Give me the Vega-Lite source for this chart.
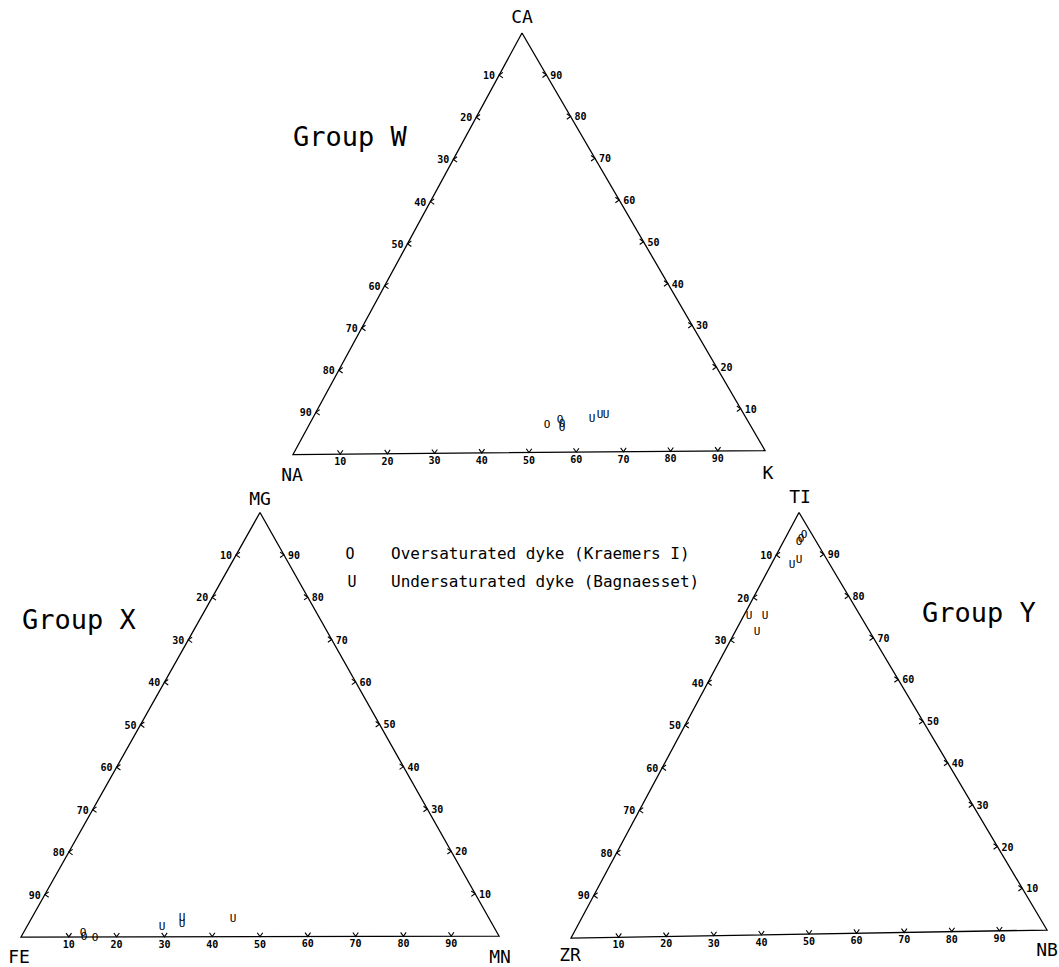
{
  "$schema": "https://vega.github.io/schema/vega-lite/v6.json",
  "width": 1059,
  "height": 967,
  "autosize": {"type": "fit", "contains": "padding"},
  "padding": 0,
  "background": "white",
  "config": {"view": {"stroke": null}, "text": {"fill": "black"}},
  "datasets": {
    "tri": [
      {"tri": "W", "ord": 1, "x": 522, "y": 33},
      {"tri": "W", "ord": 2, "x": 293, "y": 455},
      {"tri": "W", "ord": 3, "x": 765, "y": 451},
      {"tri": "W", "ord": 4, "x": 522, "y": 33},
      {"tri": "X", "ord": 1, "x": 260, "y": 513},
      {"tri": "X", "ord": 2, "x": 21, "y": 938},
      {"tri": "X", "ord": 3, "x": 499, "y": 937},
      {"tri": "X", "ord": 4, "x": 260, "y": 513},
      {"tri": "Y", "ord": 1, "x": 799, "y": 513},
      {"tri": "Y", "ord": 2, "x": 571, "y": 939},
      {"tri": "Y", "ord": 3, "x": 1047, "y": 931},
      {"tri": "Y", "ord": 4, "x": 799, "y": 513}
    ],
    "ticks": [
      {"tri": "W", "side": "L", "lab": "10", "x": 499.1, "y": 75.2},
      {"tri": "W", "side": "L", "lab": "20", "x": 476.2, "y": 117.4},
      {"tri": "W", "side": "L", "lab": "30", "x": 453.3, "y": 159.6},
      {"tri": "W", "side": "L", "lab": "40", "x": 430.4, "y": 201.8},
      {"tri": "W", "side": "L", "lab": "50", "x": 407.5, "y": 244.0},
      {"tri": "W", "side": "L", "lab": "60", "x": 384.6, "y": 286.2},
      {"tri": "W", "side": "L", "lab": "70", "x": 361.7, "y": 328.4},
      {"tri": "W", "side": "L", "lab": "80", "x": 338.8, "y": 370.6},
      {"tri": "W", "side": "L", "lab": "90", "x": 315.9, "y": 412.8},
      {"tri": "W", "side": "R", "lab": "90", "x": 546.3, "y": 74.8},
      {"tri": "W", "side": "R", "lab": "80", "x": 570.6, "y": 116.6},
      {"tri": "W", "side": "R", "lab": "70", "x": 594.9, "y": 158.4},
      {"tri": "W", "side": "R", "lab": "60", "x": 619.2, "y": 200.2},
      {"tri": "W", "side": "R", "lab": "50", "x": 643.5, "y": 242.0},
      {"tri": "W", "side": "R", "lab": "40", "x": 667.8, "y": 283.8},
      {"tri": "W", "side": "R", "lab": "30", "x": 692.1, "y": 325.6},
      {"tri": "W", "side": "R", "lab": "20", "x": 716.4, "y": 367.4},
      {"tri": "W", "side": "R", "lab": "10", "x": 740.7, "y": 409.2},
      {"tri": "W", "side": "B", "lab": "10", "x": 340.2, "y": 454.6},
      {"tri": "W", "side": "B", "lab": "20", "x": 387.4, "y": 454.2},
      {"tri": "W", "side": "B", "lab": "30", "x": 434.6, "y": 453.8},
      {"tri": "W", "side": "B", "lab": "40", "x": 481.8, "y": 453.4},
      {"tri": "W", "side": "B", "lab": "50", "x": 529.0, "y": 453.0},
      {"tri": "W", "side": "B", "lab": "60", "x": 576.2, "y": 452.6},
      {"tri": "W", "side": "B", "lab": "70", "x": 623.4, "y": 452.2},
      {"tri": "W", "side": "B", "lab": "80", "x": 670.6, "y": 451.8},
      {"tri": "W", "side": "B", "lab": "90", "x": 717.8, "y": 451.4},
      {"tri": "X", "side": "L", "lab": "10", "x": 236.1, "y": 555.5},
      {"tri": "X", "side": "L", "lab": "20", "x": 212.2, "y": 598.0},
      {"tri": "X", "side": "L", "lab": "30", "x": 188.3, "y": 640.5},
      {"tri": "X", "side": "L", "lab": "40", "x": 164.4, "y": 683.0},
      {"tri": "X", "side": "L", "lab": "50", "x": 140.5, "y": 725.5},
      {"tri": "X", "side": "L", "lab": "60", "x": 116.6, "y": 768.0},
      {"tri": "X", "side": "L", "lab": "70", "x": 92.7, "y": 810.5},
      {"tri": "X", "side": "L", "lab": "80", "x": 68.8, "y": 853.0},
      {"tri": "X", "side": "L", "lab": "90", "x": 44.9, "y": 895.5},
      {"tri": "X", "side": "R", "lab": "90", "x": 283.9, "y": 555.4},
      {"tri": "X", "side": "R", "lab": "80", "x": 307.8, "y": 597.8},
      {"tri": "X", "side": "R", "lab": "70", "x": 331.7, "y": 640.2},
      {"tri": "X", "side": "R", "lab": "60", "x": 355.6, "y": 682.6},
      {"tri": "X", "side": "R", "lab": "50", "x": 379.5, "y": 725.0},
      {"tri": "X", "side": "R", "lab": "40", "x": 403.4, "y": 767.4},
      {"tri": "X", "side": "R", "lab": "30", "x": 427.3, "y": 809.8},
      {"tri": "X", "side": "R", "lab": "20", "x": 451.2, "y": 852.2},
      {"tri": "X", "side": "R", "lab": "10", "x": 475.1, "y": 894.6},
      {"tri": "X", "side": "B", "lab": "10", "x": 68.8, "y": 937.9},
      {"tri": "X", "side": "B", "lab": "20", "x": 116.6, "y": 937.8},
      {"tri": "X", "side": "B", "lab": "30", "x": 164.4, "y": 937.7},
      {"tri": "X", "side": "B", "lab": "40", "x": 212.2, "y": 937.6},
      {"tri": "X", "side": "B", "lab": "50", "x": 260.0, "y": 937.5},
      {"tri": "X", "side": "B", "lab": "60", "x": 307.8, "y": 937.4},
      {"tri": "X", "side": "B", "lab": "70", "x": 355.6, "y": 937.3},
      {"tri": "X", "side": "B", "lab": "80", "x": 403.4, "y": 937.2},
      {"tri": "X", "side": "B", "lab": "90", "x": 451.2, "y": 937.1},
      {"tri": "Y", "side": "L", "lab": "10", "x": 776.2, "y": 555.6},
      {"tri": "Y", "side": "L", "lab": "20", "x": 753.4, "y": 598.2},
      {"tri": "Y", "side": "L", "lab": "30", "x": 730.6, "y": 640.8},
      {"tri": "Y", "side": "L", "lab": "40", "x": 707.8, "y": 683.4},
      {"tri": "Y", "side": "L", "lab": "50", "x": 685.0, "y": 726.0},
      {"tri": "Y", "side": "L", "lab": "60", "x": 662.2, "y": 768.6},
      {"tri": "Y", "side": "L", "lab": "70", "x": 639.4, "y": 811.2},
      {"tri": "Y", "side": "L", "lab": "80", "x": 616.6, "y": 853.8},
      {"tri": "Y", "side": "L", "lab": "90", "x": 593.8, "y": 896.4},
      {"tri": "Y", "side": "R", "lab": "90", "x": 823.8, "y": 554.8},
      {"tri": "Y", "side": "R", "lab": "80", "x": 848.6, "y": 596.6},
      {"tri": "Y", "side": "R", "lab": "70", "x": 873.4, "y": 638.4},
      {"tri": "Y", "side": "R", "lab": "60", "x": 898.2, "y": 680.2},
      {"tri": "Y", "side": "R", "lab": "50", "x": 923.0, "y": 722.0},
      {"tri": "Y", "side": "R", "lab": "40", "x": 947.8, "y": 763.8},
      {"tri": "Y", "side": "R", "lab": "30", "x": 972.6, "y": 805.6},
      {"tri": "Y", "side": "R", "lab": "20", "x": 997.4, "y": 847.4},
      {"tri": "Y", "side": "R", "lab": "10", "x": 1022.2, "y": 889.2},
      {"tri": "Y", "side": "B", "lab": "10", "x": 618.6, "y": 938.2},
      {"tri": "Y", "side": "B", "lab": "20", "x": 666.2, "y": 937.4},
      {"tri": "Y", "side": "B", "lab": "30", "x": 713.8, "y": 936.6},
      {"tri": "Y", "side": "B", "lab": "40", "x": 761.4, "y": 935.8},
      {"tri": "Y", "side": "B", "lab": "50", "x": 809.0, "y": 935.0},
      {"tri": "Y", "side": "B", "lab": "60", "x": 856.6, "y": 934.2},
      {"tri": "Y", "side": "B", "lab": "70", "x": 904.2, "y": 933.4},
      {"tri": "Y", "side": "B", "lab": "80", "x": 951.8, "y": 932.6},
      {"tri": "Y", "side": "B", "lab": "90", "x": 999.4, "y": 931.8}
    ],
    "pts": [
      {"tri": "W", "sym": "O", "x": 547, "y": 425},
      {"tri": "W", "sym": "O", "x": 560, "y": 420},
      {"tri": "W", "sym": "O", "x": 562, "y": 424},
      {"tri": "W", "sym": "O", "x": 562, "y": 428},
      {"tri": "W", "sym": "U", "x": 592, "y": 419},
      {"tri": "W", "sym": "U", "x": 600, "y": 415},
      {"tri": "W", "sym": "U", "x": 606, "y": 415},
      {"tri": "X", "sym": "O", "x": 83, "y": 934},
      {"tri": "X", "sym": "O", "x": 84, "y": 938},
      {"tri": "X", "sym": "O", "x": 95, "y": 939},
      {"tri": "X", "sym": "U", "x": 162, "y": 928},
      {"tri": "X", "sym": "U", "x": 182, "y": 919},
      {"tri": "X", "sym": "U", "x": 182, "y": 925},
      {"tri": "X", "sym": "U", "x": 233, "y": 920},
      {"tri": "Y", "sym": "O", "x": 804, "y": 536},
      {"tri": "Y", "sym": "O", "x": 801, "y": 540},
      {"tri": "Y", "sym": "O", "x": 799, "y": 543},
      {"tri": "Y", "sym": "U", "x": 799, "y": 561},
      {"tri": "Y", "sym": "U", "x": 792, "y": 566},
      {"tri": "Y", "sym": "U", "x": 749, "y": 617},
      {"tri": "Y", "sym": "U", "x": 765, "y": 617},
      {"tri": "Y", "sym": "U", "x": 757, "y": 633}
    ],
    "vertices": [
      {"name": "CA", "x": 522, "y": 18},
      {"name": "NA", "x": 292, "y": 476},
      {"name": "K", "x": 768, "y": 474},
      {"name": "MG", "x": 260, "y": 501},
      {"name": "FE", "x": 19, "y": 959},
      {"name": "MN", "x": 500, "y": 959},
      {"name": "TI", "x": 800, "y": 499},
      {"name": "ZR", "x": 570, "y": 957},
      {"name": "NB", "x": 1047, "y": 952}
    ],
    "groups": [
      {"name": "Group W", "x": 293, "y": 138},
      {"name": "Group X", "x": 22, "y": 622},
      {"name": "Group Y", "x": 922, "y": 615}
    ],
    "legend": [
      {"sym": "O", "label": "Oversaturated dyke (Kraemers I)", "x": 350, "xt": 391, "y": 555},
      {"sym": "U", "label": "Undersaturated dyke (Bagnaesset)", "x": 352, "xt": 391, "y": 583}
    ]
  },
  "encoding": {
    "x": {"field": "x", "type": "quantitative", "scale": {"domain": [0, 1059], "nice": false, "zero": false}, "axis": null},
    "y": {"field": "y", "type": "quantitative", "scale": {"domain": [0, 967], "reverse": true, "nice": false, "zero": false}, "axis": null}
  },
  "layer": [
    {
      "data": {"name": "tri"},
      "mark": {"type": "line", "color": "black", "strokeWidth": 1.3},
      "encoding": {"detail": {"field": "tri"}, "order": {"field": "ord", "type": "quantitative"}}
    },
    {
      "data": {"name": "ticks"},
      "transform": [{"filter": "datum.side == 'B'"}],
      "mark": {"type": "point", "shape": "M-1,-1.4L0,0L1,-1.4", "filled": false, "stroke": "black", "strokeWidth": 1.1, "size": 30, "opacity": 1}
    },
    {
      "data": {"name": "ticks"},
      "transform": [{"filter": "datum.side == 'L'"}],
      "mark": {"type": "point", "shape": "M-1,-1.4L0,0L1,-1.4", "angle": 90, "filled": false, "stroke": "black", "strokeWidth": 1.1, "size": 30, "opacity": 1}
    },
    {
      "data": {"name": "ticks"},
      "transform": [{"filter": "datum.side == 'R'"}],
      "mark": {"type": "point", "shape": "M-1,-1.4L0,0L1,-1.4", "angle": -90, "filled": false, "stroke": "black", "strokeWidth": 1.1, "size": 30, "opacity": 1}
    },
    {
      "data": {"name": "ticks"},
      "transform": [{"filter": "datum.side == 'B'"}],
      "mark": {"type": "text", "font": "DejaVu Sans Mono", "fontSize": 10, "fontWeight": "bold", "align": "center", "baseline": "middle", "dy": 8, "fill": "black"},
      "encoding": {"text": {"field": "lab"}}
    },
    {
      "data": {"name": "ticks"},
      "transform": [{"filter": "datum.side == 'L'"}],
      "mark": {"type": "text", "font": "DejaVu Sans Mono", "fontSize": 10, "fontWeight": "bold", "align": "right", "baseline": "middle", "dx": -4, "dy": 1, "fill": "black"},
      "encoding": {"text": {"field": "lab"}}
    },
    {
      "data": {"name": "ticks"},
      "transform": [{"filter": "datum.side == 'R'"}],
      "mark": {"type": "text", "font": "DejaVu Sans Mono", "fontSize": 10, "fontWeight": "bold", "align": "left", "baseline": "middle", "dx": 4, "dy": 1, "fill": "black"},
      "encoding": {"text": {"field": "lab"}}
    },
    {
      "data": {"name": "pts"},
      "mark": {"type": "text", "font": "DejaVu Sans Mono", "fontSize": 11, "align": "center", "baseline": "middle", "fill": "black", "opacity": 1},
      "encoding": {"text": {"field": "sym"}}
    },
    {
      "data": {"name": "vertices"},
      "mark": {"type": "text", "font": "DejaVu Sans Mono", "fontSize": 18, "align": "center", "baseline": "middle", "fill": "black"},
      "encoding": {"text": {"field": "name"}}
    },
    {
      "data": {"name": "groups"},
      "mark": {"type": "text", "font": "DejaVu Sans Mono", "fontSize": 27, "align": "left", "baseline": "middle", "fill": "black"},
      "encoding": {"text": {"field": "name"}}
    },
    {
      "data": {"name": "legend"},
      "mark": {"type": "text", "font": "DejaVu Sans Mono", "fontSize": 15, "align": "center", "baseline": "middle", "fill": "black"},
      "encoding": {"text": {"field": "sym"}}
    },
    {
      "data": {"name": "legend"},
      "mark": {"type": "text", "font": "DejaVu Sans Mono", "fontSize": 16, "align": "left", "baseline": "middle", "fill": "black"},
      "encoding": {"x": {"field": "xt", "type": "quantitative"}, "text": {"field": "label"}}
    }
  ]
}
